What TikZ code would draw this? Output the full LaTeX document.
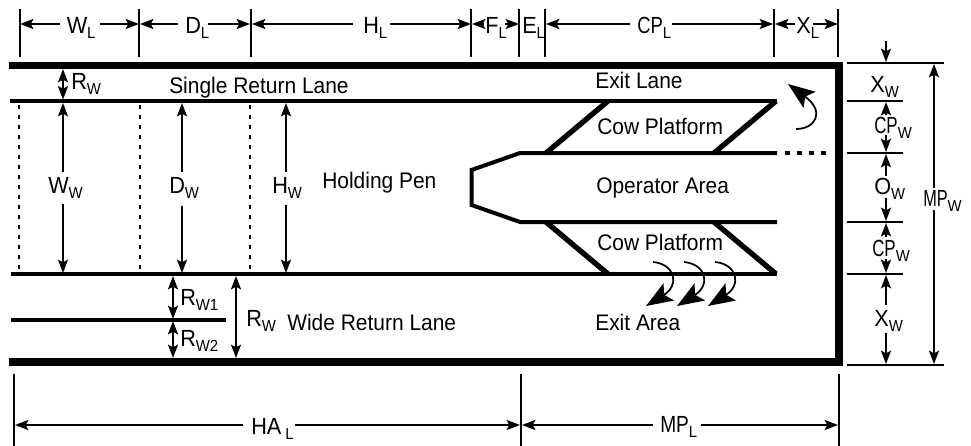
\documentclass[tikz,border=0pt]{standalone}
\usepackage{fontspec}
\usepackage{graphicx}
\setmainfont[FakeStretch=0.93]{Liberation Sans}
\usetikzlibrary{arrows.meta}
\newcommand{\lb}[3][1]{\scalebox{#1}[1]{\fontsize{17.5}{20}\selectfont #2}\raisebox{-4pt}{\fontsize{12}{14}\selectfont #3}}
\tikzset{
  txt/.style={anchor=base west,inner sep=0pt,font=\fontsize{16.9}{20}\selectfont},
  wall/.style={line width=5.4pt,line join=miter},
  partition/.style={line width=2.5pt},
  diag/.style={line width=4pt},
  tick/.style={line width=1.2pt},
  thinrule/.style={line width=1.3pt},
  dim/.style={line width=1.4pt,-{Stealth[length=10pt,width=7.5pt,inset=2pt]}},
  dotline/.style={line width=1.8pt,dash pattern=on 3pt off 4.5pt},
  dotthick/.style={line width=2.6pt,dash pattern=on 4pt off 5pt},
  flow/.style={line width=1.3pt,-{Stealth[length=20pt,width=15pt,inset=4pt]}}
}
\begin{document}
\begin{tikzpicture}[x=0.75pt,y=-0.75pt]
\useasboundingbox (0,0) rectangle (971,446);
% walls
\foreach \n/\x/\y in {wa/9/65.5,wb/839/65.5,wc/839/362,wd/9/362,
  la/10/101,lb/777/101,lc/11/274,ld/777/274,le/11/320,lf/226/320,
  oa/777/153,ob/520/153,oc/471.5/170,od/471.5/205,oe/520/222,of/777/222,
  da/608/101,db/546/153,dc/776/101,dd/714/153,de/546/222,df/608/274,dg/714/222,dh/776/274,
  ga/785/153,gb/832/153,
  p1a/19/105,p1b/19/270,p2a/140/105,p2b/140/270,p3a/250/105,p3b/250/270}
  \coordinate (\n) at (\x,\y);
\draw[wall] (wa) -- (wb) -- (wc) -- (wd);
\draw[partition] (la) -- (lb);
\draw[partition] (lc) -- (ld);
\draw[partition] (le) -- (lf);
\draw[partition,line width=3pt,line join=miter] (oa) -- (ob) -- (oc) -- (od) -- (oe) -- (of);
\draw[diag] (da) -- (db);
\draw[diag] (dc) -- (dd);
\draw[diag] (de) -- (df);
\draw[diag] (dg) -- (dh);
\draw[dotthick] (ga) -- (gb);
\foreach \a/\b in {p1a/p1b,p2a/p2b,p3a/p3b} \draw[dotline] (\a) -- (\b);
% text labels
\node[txt] (singlelane) at (169,93) {Single Return Lane};
\node[txt] (exitlane) at (595,88) {Exit Lane};
\node[txt] (cow1) at (597,134) {Cow Platform};
\node[txt] (holding) at (322,188) {Holding Pen};
\node[txt] (operator) at (596,193) {Operator Area};
\node[txt] (cow2) at (597,250) {Cow Platform};
\node[txt] (exitarea) at (595,330) {Exit Area};
\node[txt] (widelane) at (287,330) {Wide Return Lane};
% dimension labels
\node[txt] (WL) at (66.5,33) {\lb{W}{L}};
\node[txt] (DL) at (185,33) {\lb{D}{L}};
\node[txt] (HL) at (363,33) {\lb{H}{L}};
\node[txt] (FL) at (485,33) {\lb{F}{L}};
\node[txt] (EL) at (522,33) {\lb{E}{L}};
\node[txt] (CPL) at (637,33) {\lb[0.85]{CP}{L}};
\node[txt] (XL) at (796,33) {\lb{X}{L}};
\node[txt] (RW) at (71,89) {\lb{R}{W}};
\node[txt] (WW) at (48,193) {\lb{W}{W}};
\node[txt] (DW) at (169,193) {\lb{D}{W}};
\node[txt] (HW) at (272,193) {\lb{H}{W}};
\node[txt] (RWa) at (180,305) {\lb{R}{W1}};
\node[txt] (RWb) at (180,346) {\lb{R}{W2}};
\node[txt] (RWw) at (246,326) {\lb{R}{W}};
\node[txt] (HAL) at (251,434) {\lb{HA\,}{L}};
\node[txt] (MPL) at (660,432) {\lb[0.88]{MP}{L}};
\node[txt] (XWa) at (870,92) {\lb{X}{W}};
\node[txt] (CPWa) at (874,133) {\lb[0.78]{CP}{W}};
\node[txt] (OW) at (874,194) {\lb{O}{W}};
\node[txt] (CPWb) at (872,256) {\lb[0.78]{CP}{W}};
\node[txt] (XWb) at (874,326) {\lb{X}{W}};
\node[txt] (MPW) at (923,206) {\lb[0.75]{MP}{W}};
% extension ticks
\foreach \n/\x/\y/\m/\v in {t1/20/9/t1e/57,t2/139/9/t2e/57,t3/251/9/t3e/57,t4/471/9/t4e/57,t5/519/9/t5e/57,t6/545/9/t6e/57,t7/774/9/t7e/57,t8/838/9/t8e/57,
  b1/14/374/b1e/446,b2/521/374/b2e/446,b3/839/374/b3e/446}
  {\coordinate (\n) at (\x,\y); \coordinate (\m) at (\x,\v); \draw[tick] (\n) -- (\m);}
% horizontal rules on the right
\foreach \n/\x/\y/\m/\v in {r1/847/63/r1e/944,r2/847/101/r2e/903,r3/847/153/r3e/903,r4/847/222/r4e/903,r5/847/274/r5e/903,r6/847/365/r6e/944}
  {\coordinate (\n) at (\x,\y); \coordinate (\m) at (\v,\y); \draw[thinrule] (\n) -- (\m);}
% dimension arrows: start -> tip
\foreach \n/\x/\y in {
  a1s/60/24,a1t/20/24,a2s/100/24,a2t/139/24,
  a3s/178/24,a3t/140/24,a4s/208/24,a4t/250/24,
  a5s/353/24,a5t/252/24,a6s/390/24,a6t/471/24,
  a7s/484/24,a7t/472/24,a8s/505/24,a8t/519/24,
  a9s/630/24,a9t/546/24,a10s/672/24,a10t/773/24,
  a11s/795/24,a11t/775/24,a12s/813/24,a12t/838/24,
  c1s/243/425,c1t/15/425,c2s/295/425,c2t/520/425,
  c3s/653/425,c3t/522/425,c4s/701/425,c4t/838/425,
  v1m/63/84,v1t/63/69,v1u/63/99.5,
  v2s/63/172,v2t/63/103,v3s/63/204,v3t/63/273,
  v4s/182/172,v4t/182/103,v5s/182/206,v5t/182/273,
  v6s/286/172,v6t/286/103,v7s/286/205,v7t/286/273,
  w1m/173/297,w1t/173/276,w1u/173/319,
  w2m/173/339,w2t/173/321,w2u/173/358,
  w3m/236/317,w3t/236/276,w3u/236/358,
  s0s/886/41,s0t/886/62,
  s1s/886/115,s1t/886/102,s2s/886/135,s2t/886/152,
  s3s/886/176,s3t/886/154,s4s/886/198,s4t/886/221,
  s5s/886/237,s5t/886/223,s6s/886/259,s6t/886/273,
  s7s/886/305,s7t/886/275,s8s/886/333,s8t/886/364,
  m1s/934/188,m1t/934/64,m2s/934/210,m2t/934/364}
  \coordinate (\n) at (\x,\y);
\foreach \a/\b in {a1s/a1t,a2s/a2t,a3s/a3t,a4s/a4t,a5s/a5t,a6s/a6t,a7s/a7t,a8s/a8t,a9s/a9t,a10s/a10t,a11s/a11t,a12s/a12t,
  c1s/c1t,c2s/c2t,c3s/c3t,c4s/c4t,
  v1m/v1t,v1m/v1u,v2s/v2t,v3s/v3t,v4s/v4t,v5s/v5t,v6s/v6t,v7s/v7t,
  w1m/w1t,w1m/w1u,w2m/w2t,w2m/w2u,w3m/w3t,w3m/w3u,
  s0s/s0t,s1s/s1t,s2s/s2t,s3s/s3t,s4s/s4t,s5s/s5t,s6s/s6t,s7s/s7t,s8s/s8t,m1s/m1t,m2s/m2t}
  \draw[dim] (\a) -- (\b);
% cow flow arrows
\coordinate (f0a) at (796,129); \coordinate (f0b) at (788,84);
\draw[flow] (f0a) .. controls (815,129) and (826,112) .. (f0b);
\foreach \n/\dx in {1/0,2/31,3/62}{
  \coordinate (f\n a) at (653+\dx,262);
  \coordinate (f\n b) at (646+\dx,306);
  \draw[flow] (f\n a) .. controls (675+\dx,264) and (680+\dx,285) .. (f\n b);
}
\end{tikzpicture}
\end{document}
